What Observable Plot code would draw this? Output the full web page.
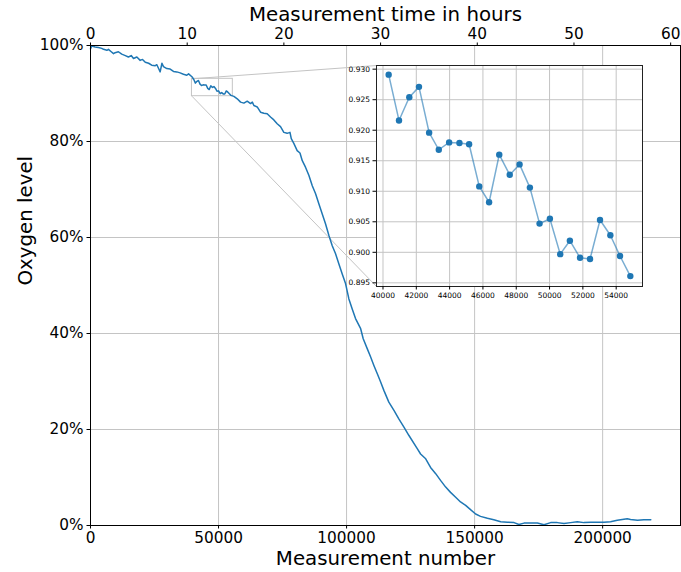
<!DOCTYPE html>
<html>
<head>
<meta charset="utf-8">
<script src="https://cdn.jsdelivr.net/npm/d3@7"></script>
<script src="https://cdn.jsdelivr.net/npm/@observablehq/plot@0.6"></script>
<style>
  html, body { margin: 0; padding: 0; background: white; }
  #chart { position: relative; width: 681px; height: 572px; }
  #chart svg { position: absolute; }
</style>
</head>
<body>
<div id="chart"></div>
<script>
// Oxygen level over the course of the measurement run
const measurementNumber = [
  0, 500, 1800, 3100, 4400, 5100, 6400, 7000, 8100, 9000, 9600, 10900, 12200, 13600, 14800,
  15900, 16800, 18100, 19400, 20300, 21400, 22700, 23900, 25300, 25900, 26600, 27200, 27900,
  28500, 29800, 31100, 32400, 33700, 35000, 36300, 37600, 38300, 39600,
  40340, 40960, 41580, 42160, 42770, 43350, 43970, 44590, 45170, 45780, 46370, 46980, 47610,
  48200, 48820, 49400, 50020, 50640, 51220, 51830, 52430, 53030, 53650, 54230, 54850,
  56000, 57300, 58600, 59900, 61200, 62500, 63200, 63800, 65100, 66400, 67700, 69000, 70300,
  71600, 72900, 74200, 75500, 76800, 77900, 78400, 79400, 80700, 81800, 82700, 84000, 85300,
  86600, 87900, 89200, 90500, 91800, 93100, 94400, 95700, 97000, 98300, 99600, 100900, 102200,
  103500, 105500, 106500, 108100, 109400, 110700, 112000, 113300, 114600, 116500, 118500,
  120400, 122400, 124300, 127600, 128900, 130900, 132800, 134800, 136700, 138700, 140600,
  142600, 144500, 146500, 148400, 150400, 152300, 155000, 157500, 160200, 162800, 165400,
  167300, 169300, 171900, 174500, 177100, 179700, 182300, 184900, 187500, 190100, 192700,
  195300, 197900, 200500, 203100, 205700, 208300, 209600, 210900, 213600, 216100, 218800
];
const oxygenLevel = [
  0.993, 0.999, 0.997, 0.996, 0.994, 0.992, 0.990, 0.992, 0.987, 0.983, 0.985, 0.987, 0.982, 0.979, 0.976,
  0.979, 0.973, 0.976, 0.969, 0.971, 0.965, 0.963, 0.959, 0.958, 0.960, 0.952, 0.945, 0.963,
  0.956, 0.952, 0.951, 0.946, 0.945, 0.943, 0.940, 0.938, 0.941, 0.935,
  0.9291, 0.9216, 0.9254, 0.9271, 0.9196, 0.9168, 0.9180, 0.9179, 0.9177, 0.9108, 0.9082, 0.9160, 0.9127,
  0.9144, 0.9106, 0.9047, 0.9055, 0.8997, 0.9019, 0.8991, 0.8989, 0.9053, 0.9028, 0.8994, 0.8961,
  0.894, 0.889, 0.882, 0.880, 0.884, 0.879, 0.882, 0.875, 0.872, 0.861, 0.859, 0.858, 0.851,
  0.845, 0.837, 0.831, 0.819, 0.817, 0.819, 0.806, 0.796, 0.781, 0.776, 0.760, 0.746, 0.729,
  0.708, 0.691, 0.670, 0.649, 0.628, 0.604, 0.583, 0.566, 0.545, 0.524, 0.504, 0.472, 0.451,
  0.431, 0.410, 0.389, 0.368, 0.351, 0.333, 0.316, 0.299, 0.281, 0.257, 0.240,
  0.222, 0.205, 0.188, 0.160, 0.149, 0.139, 0.121, 0.108, 0.094, 0.080, 0.069,
  0.059, 0.049, 0.042, 0.033, 0.024, 0.019, 0.015, 0.012, 0.008, 0.007, 0.006,
  0.002, 0.005, 0.005, 0.005, 0.0015, 0.006, 0.006, 0.004, 0.006, 0.008, 0.006,
  0.007, 0.007, 0.007, 0.008, 0.011, 0.013, 0.014, 0.0125, 0.011, 0.012, 0.012
];

// Axis ticks
const xTicks = [0, 50000, 100000, 150000, 200000];
const yTicks = [0, 0.2, 0.4, 0.6, 0.8, 1.0];
const hourTicks = [0, 10, 20, 30, 40, 50, 60];
const measurementsPerHour = 3776;
const xDomain = [0, 230400];

// Zoomed window shown in the inset
const insetXDomain = [39610, 55580];
const insetYDomain = [0.8944, 0.9306];
const insetXTicks = [40000, 42000, 44000, 46000, 48000, 50000, 52000, 54000];
const insetYTicks = [0.895, 0.900, 0.905, 0.910, 0.915, 0.920, 0.925, 0.930];

const data = measurementNumber.map((x, i) => ({x, y: oxygenLevel[i]}));
const insetData = data.filter(d =>
  d.x >= insetXDomain[0] && d.x <= insetXDomain[1] &&
  d.y >= insetYDomain[0] && d.y <= insetYDomain[1]);

const blue = "#1f77b4";
const gridColor = "#c4c4c4";
const font = "DejaVu Sans, sans-serif";

// Main frame geometry
const W = 681, H = 572;
const mL = 90, mR = 1, mT = 45, mB = 47;

// Inset placement (page pixels)
const inset = {left: 376, top: 65, width: 266, height: 221};
const insetMargin = {left: 40, right: 1, top: 5, bottom: 20};

// Scales matching the main frame, used to place the connector lines
const xs = Plot.scale({x: {domain: xDomain, range: [mL, W - mR]}});
const ys = Plot.scale({y: {domain: [0, 1], range: [H - mB, mT]}});

const zoomWindow = [{x1: insetXDomain[0], x2: insetXDomain[1], y1: insetYDomain[0], y2: insetYDomain[1]}];
const connectors = [
  {x1: insetXDomain[0], y1: insetYDomain[1], x2: xs.invert(inset.left), y2: ys.invert(inset.top)},
  {x1: insetXDomain[0], y1: insetYDomain[0], x2: xs.invert(inset.left), y2: ys.invert(inset.top + inset.height)}
];

const main = Plot.plot({
  width: W, height: H,
  marginLeft: mL, marginRight: mR, marginTop: mT, marginBottom: mB,
  style: {fontFamily: font, fontSize: "15.3px", color: "black", background: "white"},
  x: {domain: xDomain},
  y: {domain: [0, 1]},
  marks: [
    Plot.gridX(xTicks, {stroke: gridColor, strokeOpacity: 1, strokeWidth: 1}),
    Plot.gridY(yTicks, {stroke: gridColor, strokeOpacity: 1, strokeWidth: 1}),
    Plot.link(connectors, {x1: "x1", y1: "y1", x2: "x2", y2: "y2", stroke: gridColor, strokeWidth: 1}),
    Plot.rect(zoomWindow, {x1: "x1", x2: "x2", y1: "y1", y2: "y2", fill: "none", stroke: gridColor, strokeWidth: 1}),
    Plot.line(data, {x: "x", y: "y", stroke: blue, strokeWidth: 1.5}),
    Plot.frame({stroke: "black", strokeWidth: 1}),
    Plot.axisX(xTicks, {anchor: "bottom", tickSize: 3.5, tickPadding: 3.5, tickFormat: d3.format("d"), label: null}),
    Plot.axisX(hourTicks.map(h => h * measurementsPerHour), {
      anchor: "top", tickSize: 3.5, tickPadding: 3.5,
      tickFormat: d => String(Math.round(d / measurementsPerHour)), label: null
    }),
    Plot.axisY(yTicks, {anchor: "left", tickSize: 3.5, tickPadding: 3.5, tickFormat: d3.format(".0%"), label: null}),
    Plot.text(["Measurement number"], {text: d => d, frameAnchor: "bottom", dy: 33, lineAnchor: "middle", fontSize: 19.8, fill: "black"}),
    Plot.text(["Measurement time in hours"], {text: d => d, frameAnchor: "top", dy: -31, lineAnchor: "middle", fontSize: 19.8, fill: "black"}),
    Plot.text(["Oxygen level"], {text: d => d, frameAnchor: "left", dx: -65, rotate: -90, lineAnchor: "middle", fontSize: 19.8, fill: "black"})
  ]
});
main.style.left = "0px";
main.style.top = "0px";

const insetPlot = Plot.plot({
  width: insetMargin.left + inset.width + insetMargin.right,
  height: insetMargin.top + inset.height + insetMargin.bottom,
  marginLeft: insetMargin.left, marginRight: insetMargin.right,
  marginTop: insetMargin.top, marginBottom: insetMargin.bottom,
  style: {fontFamily: font, fontSize: "7.5px", color: "black", background: "transparent", overflow: "visible"},
  x: {domain: insetXDomain},
  y: {domain: insetYDomain},
  marks: [
    Plot.frame({fill: "white"}),
    Plot.gridX(insetXTicks, {stroke: gridColor, strokeOpacity: 1, strokeWidth: 1}),
    Plot.gridY(insetYTicks, {stroke: gridColor, strokeOpacity: 1, strokeWidth: 1}),
    Plot.line(insetData, {x: "x", y: "y", stroke: blue, strokeOpacity: 0.6, strokeWidth: 1.5}),
    Plot.dot(insetData, {x: "x", y: "y", r: 3.2, fill: blue}),
    Plot.frame({stroke: "#222", strokeWidth: 1}),
    Plot.axisX(insetXTicks, {anchor: "bottom", tickSize: 3.5, tickPadding: 3, tickFormat: d3.format("d"), label: null}),
    Plot.axisY(insetYTicks, {anchor: "left", tickSize: 3.5, tickPadding: 3, tickFormat: d3.format(".3f"), label: null})
  ]
});
insetPlot.style.left = (inset.left - insetMargin.left) + "px";
insetPlot.style.top = (inset.top - insetMargin.top) + "px";

const chart = document.getElementById("chart");
chart.append(main, insetPlot);
</script>
</body>
</html>
